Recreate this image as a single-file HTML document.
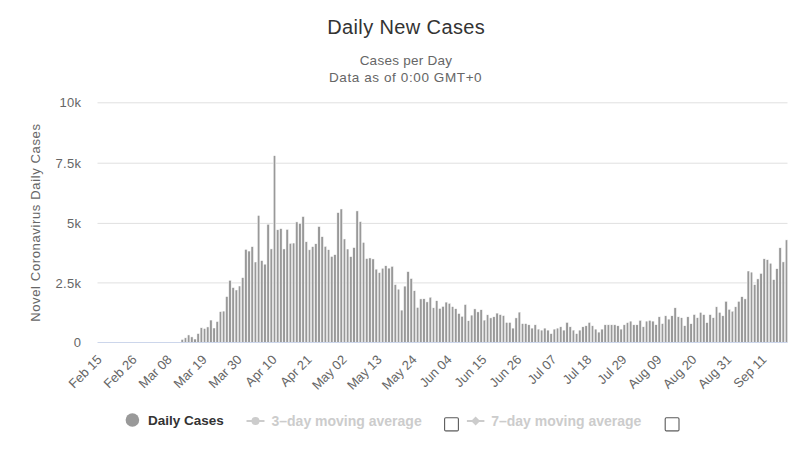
<!DOCTYPE html>
<html><head><meta charset="utf-8"><style>
html,body{margin:0;padding:0;background:#fff;width:800px;height:453px;overflow:hidden}
svg{display:block;font-family:"Liberation Sans",sans-serif}
</style></head><body>
<svg width="800" height="453" viewBox="0 0 800 453">
<rect width="800" height="453" fill="#fff"/>
<text x="406.2" y="34" text-anchor="middle" font-size="20" fill="#333" letter-spacing="0.38">Daily New Cases</text>
<text x="405.9" y="65.1" text-anchor="middle" font-size="13.5" fill="#666" letter-spacing="0.25">Cases per Day</text>
<text x="405.6" y="82.2" text-anchor="middle" font-size="13.5" fill="#666" letter-spacing="0.6">Data as of 0:00 GMT+0</text>
<g stroke="#e0e0e0" stroke-width="1"><line x1="97.5" x2="787.5" y1="102.8" y2="102.8"/><line x1="97.5" x2="787.5" y1="163.2" y2="163.2"/><line x1="97.5" x2="787.5" y1="223.4" y2="223.4"/><line x1="97.5" x2="787.5" y1="282.9" y2="282.9"/></g>
<g font-size="13" fill="#666" text-anchor="end" letter-spacing="0.3"><text x="81.3" y="107.4">10k</text><text x="81.3" y="167.8">7.5k</text><text x="81.3" y="228.0">5k</text><text x="81.3" y="287.5">2.5k</text><text x="81.3" y="346.9">0</text></g>
<text transform="translate(40.1,222.6) rotate(-90)" text-anchor="middle" font-size="13" fill="#666" letter-spacing="0.64">Novel Coronavirus Daily Cases</text>
<g fill="#999" stroke="#fff" stroke-width="0.5"><rect x="181.03" y="339.42" width="2.5" height="2.88"/><rect x="184.21" y="337.83" width="2.5" height="4.47"/><rect x="187.39" y="334.95" width="2.5" height="7.35"/><rect x="190.57" y="336.90" width="2.5" height="5.40"/><rect x="193.75" y="339.03" width="2.5" height="3.27"/><rect x="196.93" y="333.55" width="2.5" height="8.75"/><rect x="200.11" y="327.77" width="2.5" height="14.53"/><rect x="203.29" y="328.48" width="2.5" height="13.82"/><rect x="206.47" y="326.95" width="2.5" height="15.35"/><rect x="209.65" y="320.05" width="2.5" height="22.25"/><rect x="212.83" y="328.00" width="2.5" height="14.30"/><rect x="216.01" y="321.51" width="2.5" height="20.79"/><rect x="219.19" y="311.62" width="2.5" height="30.68"/><rect x="222.37" y="311.08" width="2.5" height="31.22"/><rect x="225.55" y="296.53" width="2.5" height="45.77"/><rect x="228.73" y="280.27" width="2.5" height="62.03"/><rect x="231.91" y="287.56" width="2.5" height="54.74"/><rect x="235.09" y="289.99" width="2.5" height="52.31"/><rect x="238.27" y="285.99" width="2.5" height="56.31"/><rect x="241.45" y="277.61" width="2.5" height="64.69"/><rect x="244.63" y="249.33" width="2.5" height="92.97"/><rect x="247.81" y="251.05" width="2.5" height="91.25"/><rect x="250.99" y="246.62" width="2.5" height="95.67"/><rect x="254.17" y="262.00" width="2.5" height="80.30"/><rect x="257.35" y="215.39" width="2.5" height="126.91"/><rect x="260.53" y="260.56" width="2.5" height="81.74"/><rect x="263.71" y="264.17" width="2.5" height="78.13"/><rect x="266.89" y="224.24" width="2.5" height="118.06"/><rect x="270.07" y="248.90" width="2.5" height="93.40"/><rect x="273.25" y="155.66" width="2.5" height="186.64"/><rect x="276.43" y="229.79" width="2.5" height="112.51"/><rect x="279.61" y="228.61" width="2.5" height="113.69"/><rect x="282.79" y="248.95" width="2.5" height="93.35"/><rect x="285.97" y="229.38" width="2.5" height="112.92"/><rect x="289.15" y="243.34" width="2.5" height="98.96"/><rect x="292.33" y="243.03" width="2.5" height="99.27"/><rect x="295.51" y="221.92" width="2.5" height="120.38"/><rect x="298.69" y="223.51" width="2.5" height="118.79"/><rect x="301.87" y="216.53" width="2.5" height="125.77"/><rect x="305.05" y="241.77" width="2.5" height="100.53"/><rect x="308.23" y="249.83" width="2.5" height="92.47"/><rect x="311.41" y="246.60" width="2.5" height="95.70"/><rect x="314.59" y="243.77" width="2.5" height="98.53"/><rect x="317.77" y="226.50" width="2.5" height="115.80"/><rect x="320.95" y="236.67" width="2.5" height="105.63"/><rect x="324.13" y="246.35" width="2.5" height="95.95"/><rect x="327.31" y="249.66" width="2.5" height="92.64"/><rect x="330.49" y="256.39" width="2.5" height="85.91"/><rect x="333.67" y="254.67" width="2.5" height="87.63"/><rect x="336.85" y="212.61" width="2.5" height="129.69"/><rect x="340.03" y="208.98" width="2.5" height="133.32"/><rect x="343.21" y="238.97" width="2.5" height="103.33"/><rect x="346.39" y="249.01" width="2.5" height="93.29"/><rect x="349.57" y="256.62" width="2.5" height="85.68"/><rect x="352.75" y="247.57" width="2.5" height="94.73"/><rect x="355.93" y="210.91" width="2.5" height="131.39"/><rect x="359.11" y="221.60" width="2.5" height="120.70"/><rect x="362.29" y="242.35" width="2.5" height="99.95"/><rect x="365.47" y="258.54" width="2.5" height="83.76"/><rect x="368.65" y="257.96" width="2.5" height="84.34"/><rect x="371.83" y="258.94" width="2.5" height="83.36"/><rect x="375.01" y="269.14" width="2.5" height="73.16"/><rect x="378.19" y="272.60" width="2.5" height="69.70"/><rect x="381.37" y="268.21" width="2.5" height="74.09"/><rect x="384.55" y="265.76" width="2.5" height="76.54"/><rect x="387.73" y="268.12" width="2.5" height="74.17"/><rect x="390.91" y="266.32" width="2.5" height="75.98"/><rect x="394.09" y="284.59" width="2.5" height="57.71"/><rect x="397.27" y="289.15" width="2.5" height="53.15"/><rect x="400.45" y="310.10" width="2.5" height="32.20"/><rect x="403.63" y="286.10" width="2.5" height="56.20"/><rect x="406.81" y="271.60" width="2.5" height="70.70"/><rect x="409.99" y="278.50" width="2.5" height="63.80"/><rect x="413.17" y="290.70" width="2.5" height="51.60"/><rect x="416.35" y="307.40" width="2.5" height="34.90"/><rect x="419.53" y="298.90" width="2.5" height="43.40"/><rect x="422.71" y="298.80" width="2.5" height="43.50"/><rect x="425.89" y="301.90" width="2.5" height="40.40"/><rect x="429.07" y="297.20" width="2.5" height="45.10"/><rect x="432.25" y="307.80" width="2.5" height="34.50"/><rect x="435.43" y="300.70" width="2.5" height="41.60"/><rect x="438.61" y="308.40" width="2.5" height="33.90"/><rect x="441.79" y="306.40" width="2.5" height="35.90"/><rect x="444.97" y="302.10" width="2.5" height="40.20"/><rect x="448.15" y="303.30" width="2.5" height="39.00"/><rect x="451.33" y="306.60" width="2.5" height="35.70"/><rect x="454.51" y="308.70" width="2.5" height="33.60"/><rect x="457.69" y="313.50" width="2.5" height="28.80"/><rect x="460.87" y="316.30" width="2.5" height="26.00"/><rect x="464.05" y="304.50" width="2.5" height="37.80"/><rect x="467.23" y="320.70" width="2.5" height="21.60"/><rect x="470.41" y="315.10" width="2.5" height="27.20"/><rect x="473.59" y="308.90" width="2.5" height="33.40"/><rect x="476.77" y="311.90" width="2.5" height="30.40"/><rect x="479.95" y="309.70" width="2.5" height="32.60"/><rect x="483.13" y="320.10" width="2.5" height="22.20"/><rect x="486.31" y="314.80" width="2.5" height="27.50"/><rect x="489.49" y="317.90" width="2.5" height="24.40"/><rect x="492.67" y="316.80" width="2.5" height="25.50"/><rect x="495.85" y="313.10" width="2.5" height="29.20"/><rect x="499.03" y="314.60" width="2.5" height="27.70"/><rect x="502.21" y="315.60" width="2.5" height="26.70"/><rect x="505.39" y="322.40" width="2.5" height="19.90"/><rect x="508.57" y="322.40" width="2.5" height="19.90"/><rect x="511.75" y="328.10" width="2.5" height="14.20"/><rect x="514.93" y="317.90" width="2.5" height="24.40"/><rect x="518.11" y="312.10" width="2.5" height="30.20"/><rect x="521.29" y="323.60" width="2.5" height="18.70"/><rect x="524.47" y="323.60" width="2.5" height="18.70"/><rect x="527.65" y="324.80" width="2.5" height="17.50"/><rect x="530.83" y="328.10" width="2.5" height="14.20"/><rect x="534.01" y="324.80" width="2.5" height="17.50"/><rect x="537.19" y="329.10" width="2.5" height="13.20"/><rect x="540.37" y="330.10" width="2.5" height="12.20"/><rect x="543.55" y="328.10" width="2.5" height="14.20"/><rect x="546.73" y="330.10" width="2.5" height="12.20"/><rect x="549.91" y="333.60" width="2.5" height="8.70"/><rect x="553.09" y="329.10" width="2.5" height="13.20"/><rect x="556.27" y="328.10" width="2.5" height="14.20"/><rect x="559.45" y="326.80" width="2.5" height="15.50"/><rect x="562.63" y="330.10" width="2.5" height="12.20"/><rect x="565.81" y="322.40" width="2.5" height="19.90"/><rect x="568.99" y="326.80" width="2.5" height="15.50"/><rect x="572.17" y="330.10" width="2.5" height="12.20"/><rect x="575.35" y="333.60" width="2.5" height="8.70"/><rect x="578.53" y="330.10" width="2.5" height="12.20"/><rect x="581.71" y="326.80" width="2.5" height="15.50"/><rect x="584.89" y="325.80" width="2.5" height="16.50"/><rect x="588.07" y="322.40" width="2.5" height="19.90"/><rect x="591.25" y="325.80" width="2.5" height="16.50"/><rect x="594.43" y="329.10" width="2.5" height="13.20"/><rect x="597.61" y="332.10" width="2.5" height="10.20"/><rect x="600.79" y="329.10" width="2.5" height="13.20"/><rect x="603.97" y="324.80" width="2.5" height="17.50"/><rect x="607.15" y="324.80" width="2.5" height="17.50"/><rect x="610.33" y="324.80" width="2.5" height="17.50"/><rect x="613.51" y="324.80" width="2.5" height="17.50"/><rect x="616.69" y="325.80" width="2.5" height="16.50"/><rect x="619.87" y="329.10" width="2.5" height="13.20"/><rect x="623.05" y="324.80" width="2.5" height="17.50"/><rect x="626.23" y="322.60" width="2.5" height="19.70"/><rect x="629.41" y="321.10" width="2.5" height="21.20"/><rect x="632.59" y="324.80" width="2.5" height="17.50"/><rect x="635.77" y="324.80" width="2.5" height="17.50"/><rect x="638.95" y="320.30" width="2.5" height="22.00"/><rect x="642.13" y="326.80" width="2.5" height="15.50"/><rect x="645.31" y="321.10" width="2.5" height="21.20"/><rect x="648.49" y="320.30" width="2.5" height="22.00"/><rect x="651.67" y="321.10" width="2.5" height="21.20"/><rect x="654.85" y="324.70" width="2.5" height="17.60"/><rect x="658.03" y="316.80" width="2.5" height="25.50"/><rect x="661.21" y="323.60" width="2.5" height="18.70"/><rect x="664.39" y="315.80" width="2.5" height="26.50"/><rect x="667.57" y="319.10" width="2.5" height="23.20"/><rect x="670.75" y="315.80" width="2.5" height="26.50"/><rect x="673.93" y="307.80" width="2.5" height="34.50"/><rect x="677.11" y="316.80" width="2.5" height="25.50"/><rect x="680.29" y="317.70" width="2.5" height="24.60"/><rect x="683.47" y="325.70" width="2.5" height="16.60"/><rect x="686.65" y="316.80" width="2.5" height="25.50"/><rect x="689.83" y="323.70" width="2.5" height="18.60"/><rect x="693.01" y="314.50" width="2.5" height="27.80"/><rect x="696.19" y="317.70" width="2.5" height="24.60"/><rect x="699.37" y="312.30" width="2.5" height="30.00"/><rect x="702.55" y="314.60" width="2.5" height="27.70"/><rect x="705.73" y="322.60" width="2.5" height="19.70"/><rect x="708.91" y="314.60" width="2.5" height="27.70"/><rect x="712.09" y="317.70" width="2.5" height="24.60"/><rect x="715.27" y="306.80" width="2.5" height="35.50"/><rect x="718.45" y="312.30" width="2.5" height="30.00"/><rect x="721.63" y="315.80" width="2.5" height="26.50"/><rect x="724.81" y="301.30" width="2.5" height="41.00"/><rect x="727.99" y="309.30" width="2.5" height="33.00"/><rect x="731.17" y="311.20" width="2.5" height="31.10"/><rect x="734.35" y="306.80" width="2.5" height="35.50"/><rect x="737.53" y="301.30" width="2.5" height="41.00"/><rect x="740.71" y="296.70" width="2.5" height="45.60"/><rect x="743.89" y="298.90" width="2.5" height="43.40"/><rect x="747.07" y="271.00" width="2.5" height="71.30"/><rect x="750.25" y="272.10" width="2.5" height="70.20"/><rect x="753.43" y="284.60" width="2.5" height="57.70"/><rect x="756.61" y="278.90" width="2.5" height="63.40"/><rect x="759.79" y="273.40" width="2.5" height="68.90"/><rect x="762.97" y="258.80" width="2.5" height="83.50"/><rect x="766.15" y="259.70" width="2.5" height="82.60"/><rect x="769.33" y="263.20" width="2.5" height="79.10"/><rect x="772.51" y="279.60" width="2.5" height="62.70"/><rect x="775.69" y="268.70" width="2.5" height="73.60"/><rect x="778.87" y="247.80" width="2.5" height="94.50"/><rect x="782.05" y="261.90" width="2.5" height="80.40"/><rect x="785.23" y="239.90" width="2.5" height="102.40"/></g>
<line x1="97.5" x2="787.5" y1="342.5" y2="342.5" stroke="#ccd6eb" stroke-width="1"/>
<g font-size="13" fill="#666" text-anchor="end"><text transform="translate(102.70,360.4) rotate(-45)" x="0" y="0">Feb 15</text><text transform="translate(137.68,360.4) rotate(-45)" x="0" y="0">Feb 26</text><text transform="translate(172.66,360.4) rotate(-45)" x="0" y="0">Mar 08</text><text transform="translate(207.64,360.4) rotate(-45)" x="0" y="0">Mar 19</text><text transform="translate(242.62,360.4) rotate(-45)" x="0" y="0">Mar 30</text><text transform="translate(277.60,360.4) rotate(-45)" x="0" y="0">Apr 10</text><text transform="translate(312.58,360.4) rotate(-45)" x="0" y="0">Apr 21</text><text transform="translate(347.56,360.4) rotate(-45)" x="0" y="0">May 02</text><text transform="translate(382.54,360.4) rotate(-45)" x="0" y="0">May 13</text><text transform="translate(417.52,360.4) rotate(-45)" x="0" y="0">May 24</text><text transform="translate(452.50,360.4) rotate(-45)" x="0" y="0">Jun 04</text><text transform="translate(487.48,360.4) rotate(-45)" x="0" y="0">Jun 15</text><text transform="translate(522.46,360.4) rotate(-45)" x="0" y="0">Jun 26</text><text transform="translate(557.44,360.4) rotate(-45)" x="0" y="0">Jul 07</text><text transform="translate(592.42,360.4) rotate(-45)" x="0" y="0">Jul 18</text><text transform="translate(627.40,360.4) rotate(-45)" x="0" y="0">Jul 29</text><text transform="translate(662.38,360.4) rotate(-45)" x="0" y="0">Aug 09</text><text transform="translate(697.36,360.4) rotate(-45)" x="0" y="0">Aug 20</text><text transform="translate(732.34,360.4) rotate(-45)" x="0" y="0">Aug 31</text><text transform="translate(767.32,360.4) rotate(-45)" x="0" y="0">Sep 11</text></g>
<circle cx="132.4" cy="420" r="6.8" fill="#999"/>
<text x="148" y="425.2" font-size="13.5" font-weight="bold" fill="#333">Daily Cases</text>
<line x1="246.5" x2="264.5" y1="421" y2="421" stroke="#ccc" stroke-width="2"/>
<circle cx="255.5" cy="421" r="4" fill="#ccc"/>
<text x="271.5" y="426" font-size="14" font-weight="bold" fill="#ccc" letter-spacing="0">3–day moving average</text>
<rect x="444.6" y="417.7" width="13.8" height="13.3" rx="1.2" fill="#fff" stroke="#5a5a5a" stroke-width="1.1"/><line x1="445.2" x2="457.8" y1="430.6" y2="430.6" stroke="#777" stroke-width="0.8"/>
<line x1="466.9" x2="484.4" y1="421" y2="421" stroke="#ccc" stroke-width="2"/>
<path d="M475.6 416.5 L480.1 421 L475.6 425.5 L471.1 421 Z" fill="#ccc"/>
<text x="491.2" y="426" font-size="14" font-weight="bold" fill="#ccc" letter-spacing="0">7–day moving average</text>
<rect x="665.2" y="417.7" width="13.8" height="13.3" rx="1.2" fill="#fff" stroke="#5a5a5a" stroke-width="1.1"/><line x1="665.8" x2="678.4" y1="430.6" y2="430.6" stroke="#777" stroke-width="0.8"/>
</svg>
</body></html>
